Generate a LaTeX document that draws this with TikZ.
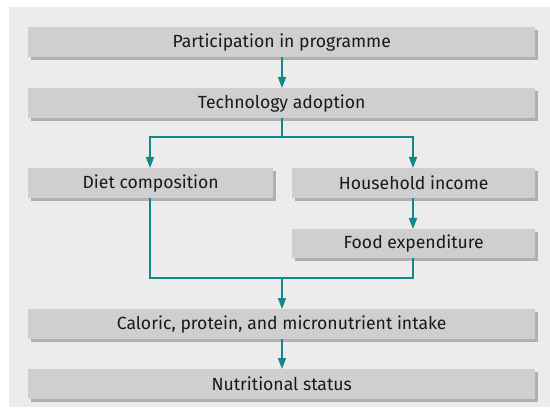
\documentclass[tikz,border=0pt]{standalone}
\usepackage{fontspec}
\setmainfont{Fira Sans}
\usetikzlibrary{arrows.meta}
\definecolor{panel}{HTML}{ECECEC}
\definecolor{boxfill}{HTML}{CFCFCF}
\definecolor{boxshadow}{HTML}{B0B0B0}
\definecolor{teal}{HTML}{13878A}
\begin{document}
\begin{tikzpicture}[x=1pt,y=-1pt,
  box/.style={fill=boxfill, draw=none, inner sep=0pt, anchor=north west,
    font=\fontsize{17.6}{20}\selectfont, text=black!90,
    preaction={fill=boxshadow, transform canvas={shift={(3pt,-3pt)}}}},
  conn/.style={draw=teal, line width=1.4pt},
  arr/.style={conn, -{Triangle[length=11pt,width=8pt]}}]
\useasboundingbox (0,0) rectangle (550,412);
\fill[white] (0,0) rectangle (550,412);
\fill[panel] (9,7) rectangle (550,407);
\node[box, minimum width=507pt, minimum height=30pt] (part) at (28,27) {Participation in programme};
\node[box, minimum width=507pt, minimum height=30pt] (tech) at (28,88) {Technology adoption};
\node[box, minimum width=245pt, minimum height=30pt] (diet) at (28,168) {Diet composition};
\node[box, minimum width=243pt, minimum height=30pt] (inc) at (292,168) {Household income};
\node[box, minimum width=243pt, minimum height=29pt] (food) at (292,229) {Food expenditure};
\node[box, minimum width=507pt, minimum height=30pt] (cal) at (28,309) {Caloric, protein, and micronutrient intake};
\node[box, minimum width=507pt, minimum height=30pt] (nut) at (28,369) {Nutritional status};
\coordinate (split) at (282,137);
\coordinate (join) at (282,278);
\draw[arr] (282,57) -- (282,88);
\draw[conn] (282,118) -- (split);
\draw[arr] (split) -| (diet.north -| 150,0);
\draw[arr] (split) -| (inc.north -| 413,0);
\draw[arr] (inc.south -| 413,0) -- (food.north -| 413,0);
\draw[conn] (diet.south -| 150,0) |- (join);
\draw[conn] (food.south -| 413,0) |- (join);
\draw[arr] (join) -- (cal.north -| 282,0);
\draw[arr] (cal.south -| 282,0) -- (nut.north -| 282,0);
\end{tikzpicture}
\end{document}
